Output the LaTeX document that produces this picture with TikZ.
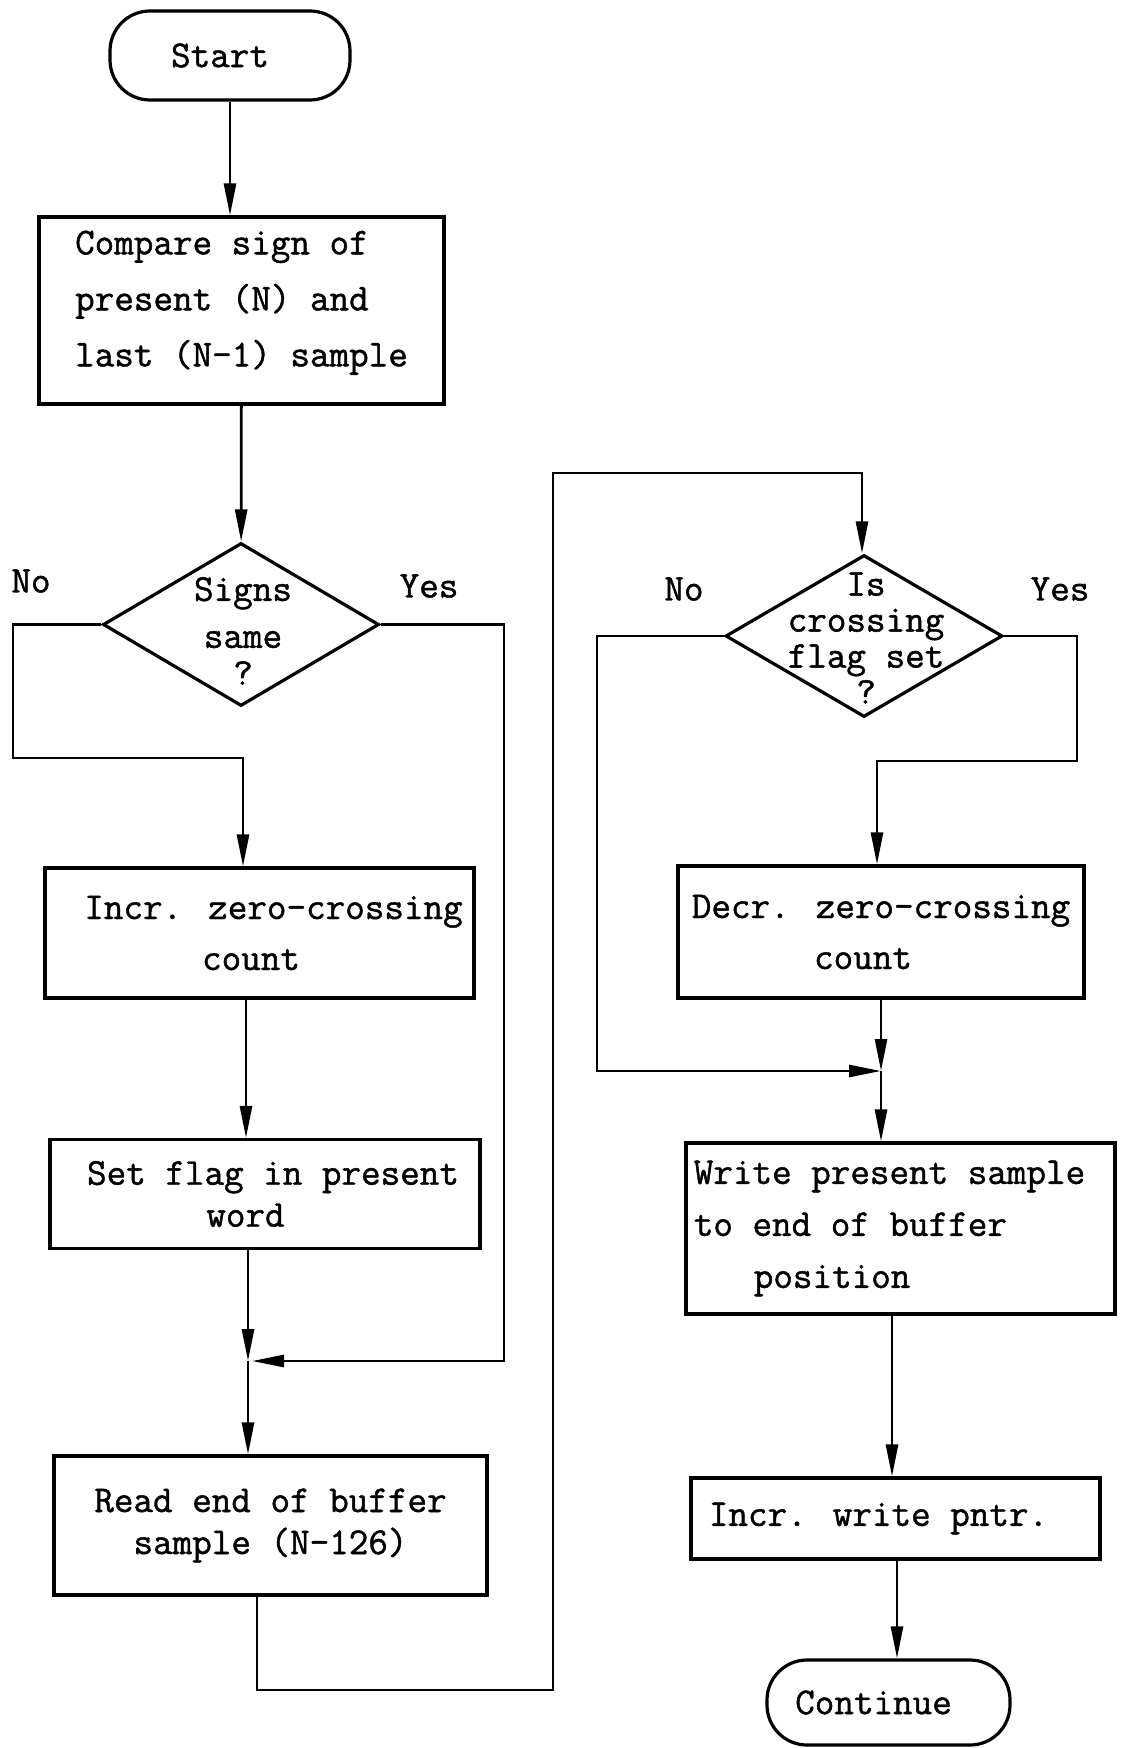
\documentclass[tikz,border=0pt]{standalone}
\usepackage{fontspec}
\newfontfamily\tw{Latin Modern Mono}[FakeBold=1.2]
\usetikzlibrary{arrows.meta,shapes.geometric}
\begin{document}
\begin{tikzpicture}[x=0.5pt,y=-0.5pt,
  every node/.style={font=\tw\fontsize{19}{20}\selectfont},
  lsp/.style={font=\tw\fontsize{19}{#1}\selectfont},
  ln/.style={line width=1.4pt},
  arr/.style={ln,-{Triangle[length=16pt,width=6pt]}},
  box/.style={draw,line width=1.6pt,rectangle,inner sep=0pt,align=center},
  term/.style={draw,line width=1.6pt,rectangle,rounded corners=20pt,inner sep=0pt},
  dec/.style={draw,line width=1.6pt,diamond,inner sep=0pt},
  lab/.style={inner sep=0pt}
]
\useasboundingbox (0,0) rectangle (1122,1748);

% nodes
\node[term, minimum width=120pt, minimum height=44.5pt] (start) at (230,55.5) {Start\hspace*{10pt}};
\node[box, minimum width=202.5pt, minimum height=93.5pt, align=left, lsp=28] (compare) at (241.5,310.5) {Compare sign of\\present (N) and\\last (N-1) sample\\[-16pt]\mbox{}};
\node[dec, minimum width=138pt, minimum height=81.5pt] (signs) at (241,624.5) {};
\node[lab, align=center] (signsT) at (243,631) {Signs\\[3.5pt]same\\[-1.5pt]?};
\node[box, minimum width=214.5pt, minimum height=65pt, lsp=25.5] (incr) at (259.5,933) {\hspace*{14pt}Incr. zero-crossing\\count\hspace*{8.5pt}};
\node[box, minimum width=215pt, minimum height=54.5pt, lsp=21] (setf) at (265,1194) {\hspace*{8pt}Set flag in present\\word\hspace*{19.5pt}};
\node[box, minimum width=216.5pt, minimum height=69.5pt, lsp=21] (read) at (270.5,1525.5) {Read end of buffer\\sample (N-126)};

\node[dec, minimum width=138.5pt, minimum height=81pt] (cross) at (864,636) {};
\node[lab, align=center, lsp=18] (crossT) at (866,638) {Is\\crossing\\flag set\\?};
\node[box, minimum width=203pt, minimum height=66pt, lsp=25.5] (decr) at (881,932) {Decr. zero-crossing\\count\hspace*{18pt}};
\node[box, minimum width=214.5pt, minimum height=85.5pt, align=left, lsp=26] (write) at (900.5,1228.5) {Write present sample\hspace*{11pt}\\to end of buffer\\\hspace*{30pt}position};
\node[box, minimum width=204.5pt, minimum height=40.5pt] (incw) at (895.5,1518.5) {Incr. write pntr.\hspace*{17pt}};
\node[term, minimum width=121.5pt, minimum height=42.5pt] (cont) at (888.5,1702.5) {Continue\hspace*{15pt}};

% labels
\node[lab] (noL) at (31,581) {No};
\node[lab] (yesL) at (429,586) {Yes};
\node[lab] (noR) at (684,589) {No};
\node[lab] (yesR) at (1060,589) {Yes};

% coordinates
\coordinate (m1) at (248,1361);
\coordinate (m2) at (881,1071);
\coordinate (nl) at (13,758);
\coordinate (nlr) at (243,758);
\coordinate (c1) at (246,0);
\coordinate (yl) at (504,1361);
\coordinate (lb1) at (257,1690);
\coordinate (lb2) at (553,1690);
\coordinate (lb3) at (553,473);
\coordinate (lb4) at (862,473);
\coordinate (nr) at (597,1071);
\coordinate (yr1) at (1077,761);
\coordinate (yr2) at (877,761);
\coordinate (c2) at (892,0);
\coordinate (c3) at (897,0);

% connectors
\draw[arr] (start) -- (start |- compare.north);
\draw[arr] (compare) -- (signs);
\draw[arr] (signs.west) -| (nl) -- (nlr) -- (nlr |- incr.north);
\draw[arr] (c1 |- incr.south) -- (c1 |- setf.north);
\draw[arr] (setf.south -| m1) -- (m1);
\draw[arr, shorten >=2pt] (signs.east) -| (yl) -- (m1);
\draw[arr] (m1) -- (m1 |- read.north);
\draw[arr] (read.south -| lb1) -- (lb1) -- (lb2) -- (lb3) -- (lb4) -- (lb4 |- cross.north);
\draw[arr] (cross.west) -| (nr) -- (m2);
\draw[arr] (cross.east) -| (yr1) -- (yr2) -- (yr2 |- decr.north);
\draw[arr] (decr.south -| m2) -- (m2);
\draw[arr] (m2) -- (m2 |- write.north);
\draw[arr] (c2 |- write.south) -- (c2 |- incw.north);
\draw[arr] (c3 |- incw.south) -- (c3 |- cont.north);
\end{tikzpicture}
\end{document}
